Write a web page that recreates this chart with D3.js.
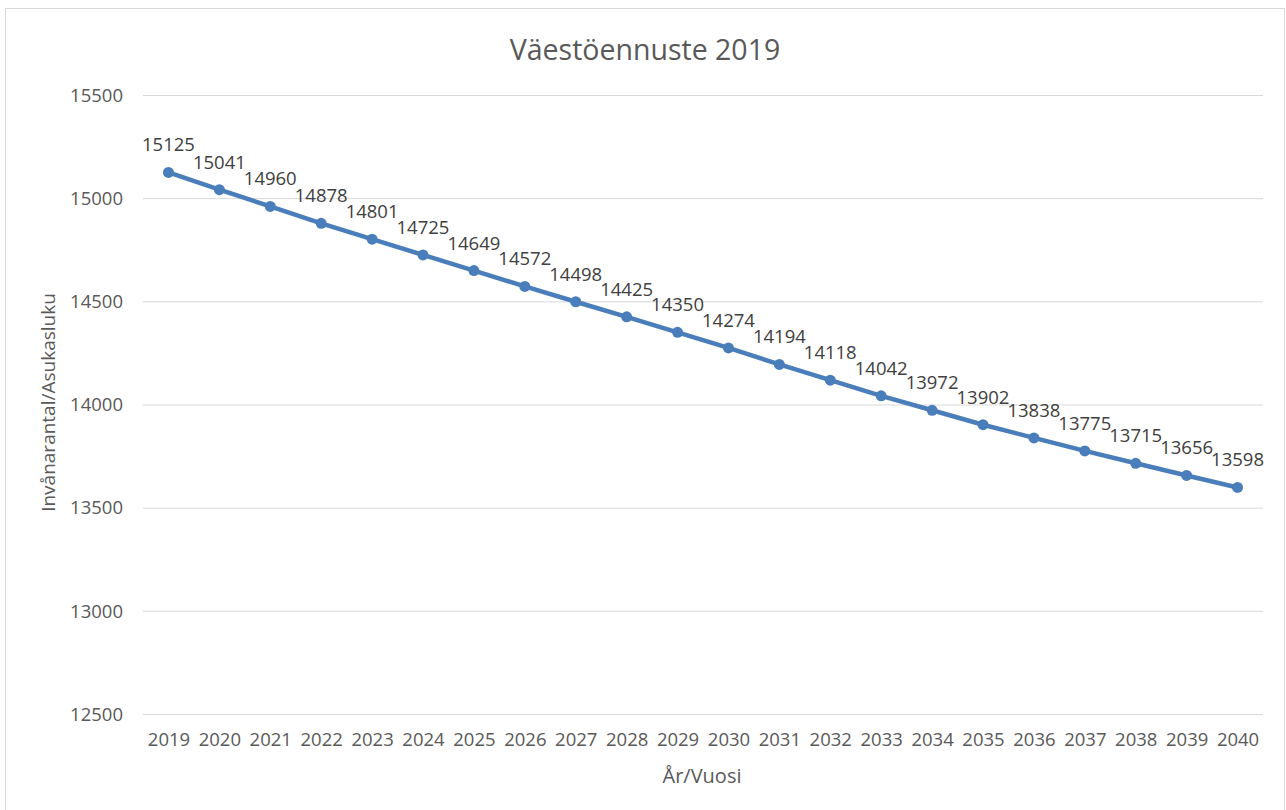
<!DOCTYPE html>
<html>
<head>
<meta charset="utf-8">
<script src="https://cdn.jsdelivr.net/npm/d3@7"></script>
<style>
  body { margin: 0; background: #fff; }
  text { font-family: "Open Sans", sans-serif; fill: #595959; }
</style>
</head>
<body>
<div id="chart"></div>
<script>
// vuodet ja ennuste
let years = ['2019','2020','2021','2022','2023','2024','2025','2026','2027','2028','2029',
    '2030','2031','2032','2033','2034','2035','2036','2037','2038','2039','2040'];
let population = [15125,15041,14960,14878,14801,14725,14649,14572,14498,14425,14350,
    14274,14194,14118,14042,13972,13902,13838,13775,13715,13656,13598];
let yTicks = [12500,13000,13500,14000,14500,15000,15500];

let width = 1286, height = 810;
let plotLeft = 143, plotRight = 1263, plotTop = 95, plotBottom = 714;
let color = '#4a7ebb';
let fs = 18.5; // akselien ja arvojen fonttikoko

let svg = d3.select('#chart').append('svg')
    .attr('width', width)
    .attr('height', height);

// kehys
svg.append('rect')
    .attr('x', 5.5).attr('y', 8.5)
    .attr('width', 1279).attr('height', 820)
    .attr('fill', '#fff')
    .attr('stroke', '#d9d9d9');

let x = d3.scalePoint().domain(years).range([plotLeft, plotRight]).padding(0.5);
let y = d3.scaleLinear().domain([12500, 15500]).range([plotBottom, plotTop]);

// ruudukko + y-akseli
let yAxis = svg.append('g')
    .attr('transform', `translate(${plotLeft},0)`)
    .call(d3.axisLeft(y).tickValues(yTicks).tickSize(-(plotRight - plotLeft)).tickPadding(20).tickFormat(d3.format('d')));
yAxis.select('.domain').remove();
yAxis.selectAll('line').attr('stroke', '#d9d9d9');
yAxis.selectAll('text').attr('font-size', fs).attr('dy', '0.34em').style('font-family', '"Open Sans", sans-serif').attr('fill', '#595959');

// x-akseli
let xAxis = svg.append('g')
    .attr('transform', `translate(0,${plotBottom})`)
    .call(d3.axisBottom(x).tickSize(0).tickPadding(19));
xAxis.select('.domain').remove();
xAxis.selectAll('text').attr('font-size', fs).attr('dy', '0.71em').style('font-family', '"Open Sans", sans-serif').attr('fill', '#595959');

// viiva
let line = d3.line()
    .x((d, i) => x(years[i]))
    .y(d => y(d));
svg.append('path')
    .datum(population)
    .attr('fill', 'none')
    .attr('stroke', color)
    .attr('stroke-width', 4.5)
    .attr('stroke-linejoin', 'round')
    .attr('d', line);

svg.selectAll('.dot').data(population).enter().append('circle')
    .attr('class', 'dot')
    .attr('cx', (d, i) => x(years[i]))
    .attr('cy', d => y(d))
    .attr('r', 5.5)
    .attr('fill', color);

// arvot pisteiden yläpuolelle
svg.selectAll('.lbl').data(population).enter().append('text')
    .attr('class', 'lbl')
    .attr('x', (d, i) => x(years[i]))
    .attr('y', d => y(d) - 21)
    .attr('text-anchor', 'middle')
    .attr('font-size', fs)
    .style('fill', '#404040')
    .text(d => d);

// otsikot
svg.append('text')
    .attr('x', 645).attr('y', 60)
    .attr('text-anchor', 'middle')
    .attr('font-size', 28.5)
    .text('Väestöennuste 2019');

svg.append('text')
    .attr('x', 702).attr('y', 783)
    .attr('text-anchor', 'middle')
    .attr('font-size', 20)
    .text('År/Vuosi');

svg.append('text')
    .attr('transform', `translate(55,${(plotTop + plotBottom) / 2 - 2}) rotate(-90)`)
    .attr('text-anchor', 'middle')
    .attr('font-size', 19)
    .text('Invånarantal/Asukasluku');
</script>
</body>
</html>
